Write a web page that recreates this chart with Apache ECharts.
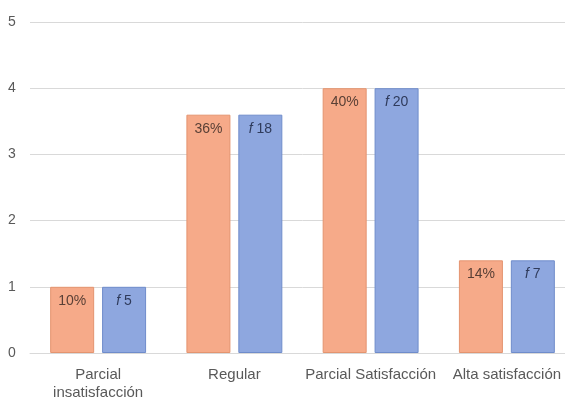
<!DOCTYPE html>
<html>
<head>
<meta charset="utf-8">
<script src="https://cdn.jsdelivr.net/npm/echarts@6/dist/echarts.min.js"></script>
<style>
  html, body { margin: 0; padding: 0; background: #ffffff; overflow: hidden; }
  /* the drawing surface runs a little past the right edge of the window */
  #chart { width: 575px; height: 408px; }
</style>
</head>
<body>
<div id="chart"></div>
<script>
// Satisfaction levels, percent share and frequency per level
const categories = ['Parcial\ninsatisfacción', 'Regular', 'Parcial Satisfacción', 'Alta satisfacción'];
const percentLabels = ['10%', '36%', '40%', '14%'];
const frequencies = [5, 18, 20, 7];
const barValues = [1, 3.6, 4, 1.4];
const yTicks = [0, 1, 2, 3, 4, 5];

const chart = echarts.init(document.getElementById('chart'), null, { renderer: 'canvas' });

const FONT = 'Liberation Sans, Arial, sans-serif';

const labelBase = {
  show: true,
  position: 'insideTop',
  distance: 7,
  fontFamily: FONT,
  fontSize: 14,
  color: '#5A4036'
};

chart.setOption({
  animation: false,
  backgroundColor: '#ffffff',
  grid: { left: 30, top: 22, right: 0, bottom: 55, containLabel: false },
  xAxis: {
    type: 'category',
    data: categories,
    axisLine: { lineStyle: { color: '#d9d9d9' } },
    axisTick: { show: false },
    axisLabel: {
      color: '#595959',
      fontFamily: FONT,
      fontSize: 15,
      lineHeight: 18,
      margin: 13,
      interval: 0
    }
  },
  yAxis: {
    type: 'value',
    min: yTicks[0],
    max: yTicks[yTicks.length - 1],
    interval: 1,
    axisLine: { show: false },
    axisTick: { show: false },
    splitLine: { lineStyle: { color: '#d9d9d9', width: 1 } },
    axisLabel: {
      color: '#595959',
      fontFamily: FONT,
      fontSize: 14,
      margin: 18,
      align: 'center'
    }
  },
  series: [
    {
      name: 'Porcentaje',
      type: 'bar',
      data: barValues,
      barWidth: 44,
      barGap: '18%',
      itemStyle: { color: '#F6AA89', borderColor: '#E4946F', borderWidth: 1 },
      label: Object.assign({}, labelBase, {
        formatter: p => percentLabels[p.dataIndex]
      })
    },
    {
      name: 'Frecuencia',
      type: 'bar',
      data: barValues,
      barWidth: 44,
      itemStyle: { color: '#8EA7DF', borderColor: '#6F8CCB', borderWidth: 1 },
      label: Object.assign({}, labelBase, {
        color: '#2F3B5C',
        formatter: p => '{i|f} ' + frequencies[p.dataIndex],
        rich: {
          i: { fontStyle: 'italic', fontSize: 14, color: '#2F3B5C', fontFamily: FONT }
        }
      })
    }
  ]
});
</script>
</body>
</html>
